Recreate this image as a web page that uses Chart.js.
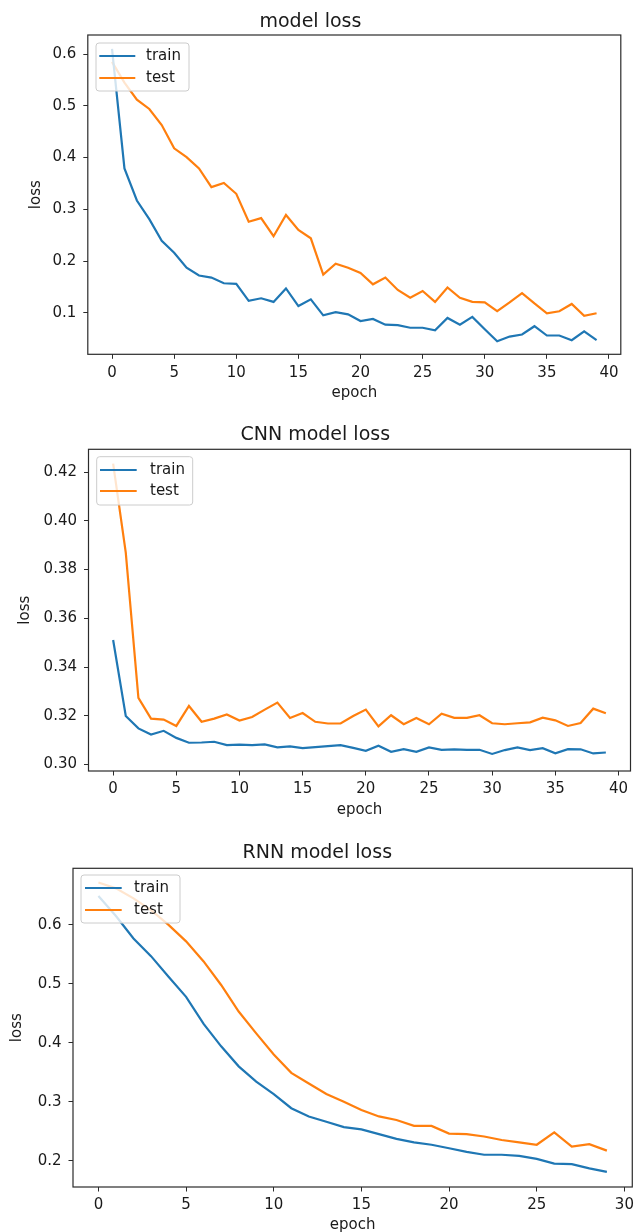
<!DOCTYPE html>
<html>
<head>
<meta charset="utf-8">
<script src="https://cdn.jsdelivr.net/npm/chart.js@4.4.1/dist/chart.umd.min.js"></script>
<style>
  body { margin: 0; background: #fff; }
  canvas { position: absolute; left: 0; }
</style>
</head>
<body>
<canvas id="modelLoss" width="639" height="410" style="top:0px"></canvas>
<canvas id="cnnLoss" width="639" height="410" style="top:410px"></canvas>
<canvas id="rnnLoss" width="639" height="412" style="top:820px"></canvas>
<script>
const epochs40 = [0, 1, 2, 3, 4, 5, 6, 7, 8, 9, 10, 11, 12, 13, 14, 15, 16, 17, 18, 19,
  20, 21, 22, 23, 24, 25, 26, 27, 28, 29, 30, 31, 32, 33, 34, 35, 36, 37, 38, 39]
const epochs30 = [0, 1, 2, 3, 4, 5, 6, 7, 8, 9, 10, 11, 12, 13, 14,
  15, 16, 17, 18, 19, 20, 21, 22, 23, 24, 25, 26, 27, 28, 29]

const modelTrain = [0.610, 0.379, 0.317, 0.281, 0.239, 0.216, 0.187, 0.172, 0.168, 0.157,
  0.156, 0.123, 0.128, 0.121, 0.147, 0.113, 0.126, 0.095, 0.101, 0.097,
  0.084, 0.088, 0.077, 0.076, 0.071, 0.071, 0.066, 0.090, 0.077, 0.092,
  0.068, 0.045, 0.054, 0.058, 0.074, 0.056, 0.056, 0.047, 0.064, 0.047]
const modelTest = [0.585, 0.545, 0.512, 0.494, 0.463, 0.418, 0.401, 0.379, 0.343, 0.351,
  0.330, 0.276, 0.283, 0.248, 0.289, 0.260, 0.244, 0.174, 0.195, 0.187,
  0.177, 0.155, 0.168, 0.144, 0.129, 0.142, 0.121, 0.149, 0.129, 0.121,
  0.120, 0.103, 0.120, 0.138, 0.118, 0.099, 0.103, 0.117, 0.094, 0.099]

const cnnTrain = [0.3511, 0.3199, 0.3148, 0.3123, 0.3138, 0.3109, 0.3089, 0.3090, 0.3093, 0.3079,
  0.3081, 0.3079, 0.3082, 0.3070, 0.3074, 0.3067, 0.3071, 0.3075, 0.3079, 0.3068,
  0.3056, 0.3077, 0.3052, 0.3063, 0.3052, 0.3070, 0.3060, 0.3062, 0.3060, 0.3060,
  0.3043, 0.3059, 0.3070, 0.3059, 0.3067, 0.3046, 0.3063, 0.3062, 0.3045, 0.3049]
const cnnTest = [0.4235, 0.3870, 0.3273, 0.3188, 0.3184, 0.3158, 0.3240, 0.3175, 0.3188, 0.3205,
  0.3180, 0.3195, 0.3225, 0.3254, 0.3191, 0.3211, 0.3175, 0.3168, 0.3168, 0.3199,
  0.3225, 0.3156, 0.3202, 0.3165, 0.3191, 0.3165, 0.3208, 0.3191, 0.3191, 0.3202,
  0.3169, 0.3165, 0.3169, 0.3173, 0.3192, 0.3181, 0.3158, 0.3170, 0.3229, 0.3210]

const rnnTrain = [0.649, 0.615, 0.577, 0.547, 0.512, 0.478, 0.432, 0.394, 0.360, 0.334,
  0.313, 0.289, 0.275, 0.266, 0.257, 0.253, 0.245, 0.237, 0.231, 0.227,
  0.221, 0.215, 0.210, 0.210, 0.208, 0.203, 0.195, 0.194, 0.187, 0.181]
const rnnTest = [0.672, 0.662, 0.645, 0.625, 0.600, 0.572, 0.538, 0.498, 0.453, 0.416,
  0.380, 0.349, 0.331, 0.313, 0.300, 0.286, 0.275, 0.269, 0.259, 0.259,
  0.246, 0.245, 0.241, 0.235, 0.231, 0.227, 0.248, 0.224, 0.228, 0.217]

const epochTicks40 = [0, 5, 10, 15, 20, 25, 30, 35, 40]
const epochTicks30 = [0, 5, 10, 15, 20, 25, 30]
const modelLossTicks = [0.1, 0.2, 0.3, 0.4, 0.5, 0.6]
const cnnLossTicks = [0.30, 0.32, 0.34, 0.36, 0.38, 0.40, 0.42]
const rnnLossTicks = [0.2, 0.3, 0.4, 0.5, 0.6]

const FONT = 'DejaVu Sans'
const TEXT = '#1a1a1a'
const AXIS = '#2b2b2b'

// matplotlib style box round the axes, plus the legend frame drawn on top of the lines
const framePlugin = {
  id: 'frame',
  afterDraw (chart, args, opts) {
    const { ctx, chartArea: a } = chart
    ctx.save()
    ctx.strokeStyle = AXIS
    ctx.lineWidth = 1.2
    ctx.strokeRect(a.left, a.top, a.right - a.left, a.bottom - a.top)

    const L = opts.legend
    const x = a.left + L.dx
    const y = a.top + L.dy
    ctx.beginPath()
    ctx.roundRect(x, y, L.w, L.h, 3)
    ctx.fillStyle = 'rgba(255,255,255,0.8)'
    ctx.fill()
    ctx.strokeStyle = '#cccccc'
    ctx.lineWidth = 1
    ctx.stroke()

    ctx.font = `15px "${FONT}"`
    ctx.textBaseline = 'middle'
    ctx.textAlign = 'left'
    chart.data.datasets.forEach((ds, i) => {
      const ry = y + L.rows[i]
      ctx.beginPath()
      ctx.moveTo(x + L.line[0], ry)
      ctx.lineTo(x + L.line[1], ry)
      ctx.strokeStyle = ds.borderColor
      ctx.lineWidth = 2.2
      ctx.stroke()
      ctx.fillStyle = TEXT
      ctx.fillText(ds.label, x + L.text, ry)
    })
    ctx.restore()
  }
}

function lossChart (id, { epochs, train, test, title, xTicks, yTicks, xRange, yRange, digits, box }) {
  const tickFont = { family: FONT, size: 15 }
  return new Chart(document.getElementById(id), {
    type: 'line',
    data: {
      datasets: [
        { label: 'train', data: epochs.map((e, i) => ({ x: e, y: train[i] })), borderColor: '#1f77b4' },
        { label: 'test', data: epochs.map((e, i) => ({ x: e, y: test[i] })), borderColor: '#ff7f0e' }
      ]
    },
    options: {
      responsive: false,
      animation: false,
      devicePixelRatio: 1,
      layout: { padding: { left: 0, right: box.right, top: 0, bottom: 0 } },
      elements: {
        point: { radius: 0 },
        line: { borderWidth: 2.2, tension: 0, fill: false }
      },
      plugins: {
        legend: { display: false },
        tooltip: { enabled: false },
        title: {
          display: true,
          text: title,
          color: TEXT,
          font: { family: FONT, size: 19, weight: 'normal' },
          padding: { top: box.titleTop, bottom: box.titleBottom }
        },
        frame: { legend: box.legend }
      },
      scales: {
        x: {
          type: 'linear',
          min: xRange[0],
          max: xRange[1],
          bounds: 'data',
          afterBuildTicks: s => { s.ticks = xTicks.map(v => ({ value: v })) },
          afterFit: s => { s.height = box.xHeight },
          ticks: { color: TEXT, font: tickFont, padding: 5, maxRotation: 0, autoSkip: false },
          grid: { drawOnChartArea: false, drawTicks: true, tickLength: 4.5, color: AXIS },
          border: { display: false },
          title: { display: true, text: 'epoch', color: TEXT, font: tickFont, padding: { top: 0, bottom: box.xTitle } }
        },
        y: {
          type: 'linear',
          min: yRange[0],
          max: yRange[1],
          bounds: 'data',
          afterBuildTicks: s => { s.ticks = yTicks.map(v => ({ value: v })) },
          afterFit: s => { s.width = box.yWidth },
          ticks: { color: TEXT, font: tickFont, padding: 7, autoSkip: false, callback: v => v.toFixed(digits) },
          grid: { drawOnChartArea: false, drawTicks: true, tickLength: 4.5, color: AXIS },
          border: { display: false },
          title: { display: true, text: 'loss', color: TEXT, font: tickFont, padding: { top: box.yTitle, bottom: 0 } }
        }
      }
    },
    plugins: [framePlugin]
  })
}

lossChart('modelLoss', {
  epochs: epochs40, train: modelTrain, test: modelTest, title: 'model loss',
  xTicks: epochTicks40, yTicks: modelLossTicks, xRange: [-1.95, 40.95], yRange: [0.0197, 0.637], digits: 1,
  box: {
    right: 18.2, titleTop: 10.3, titleBottom: 1.9, xHeight: 55.7, yWidth: 87.8, xTitle: 8, yTitle: 27,
    legend: { dx: 8.2, dy: 8, w: 93, h: 48, line: [3.3, 39.3], text: 50, rows: [13, 35] }
  }
})

lossChart('cnnLoss', {
  epochs: epochs40, train: cnnTrain, test: cnnTest, title: 'CNN model loss',
  xTicks: epochTicks40, yTicks: cnnLossTicks, xRange: [-1.95, 40.95], yRange: [0.2973, 0.4294], digits: 2,
  box: {
    right: 8.5, titleTop: 13.6, titleBottom: 2.9, xHeight: 49, yWidth: 88.5, xTitle: 1, yTitle: 16.5,
    legend: { dx: 8.2, dy: 7.4, w: 96, h: 48.3, line: [3.3, 40], text: 53.3, rows: [13.3, 34.3] }
  }
})

lossChart('rnnLoss', {
  epochs: epochs30, train: rnnTrain, test: rnnTest, title: 'RNN model loss',
  xTicks: epochTicks30, yTicks: rnnLossTicks, xRange: [-1.45, 30.45], yRange: [0.1553, 0.696], digits: 1,
  box: {
    right: 4.5, titleTop: 21.6, titleBottom: 3.9, xHeight: 45, yWidth: 73, xTitle: -2, yTitle: 8.5,
    legend: { dx: 8, dy: 6.7, w: 99, h: 48, line: [4, 40.7], text: 53, rows: [13, 35] }
  }
})
</script>
</body>
</html>
